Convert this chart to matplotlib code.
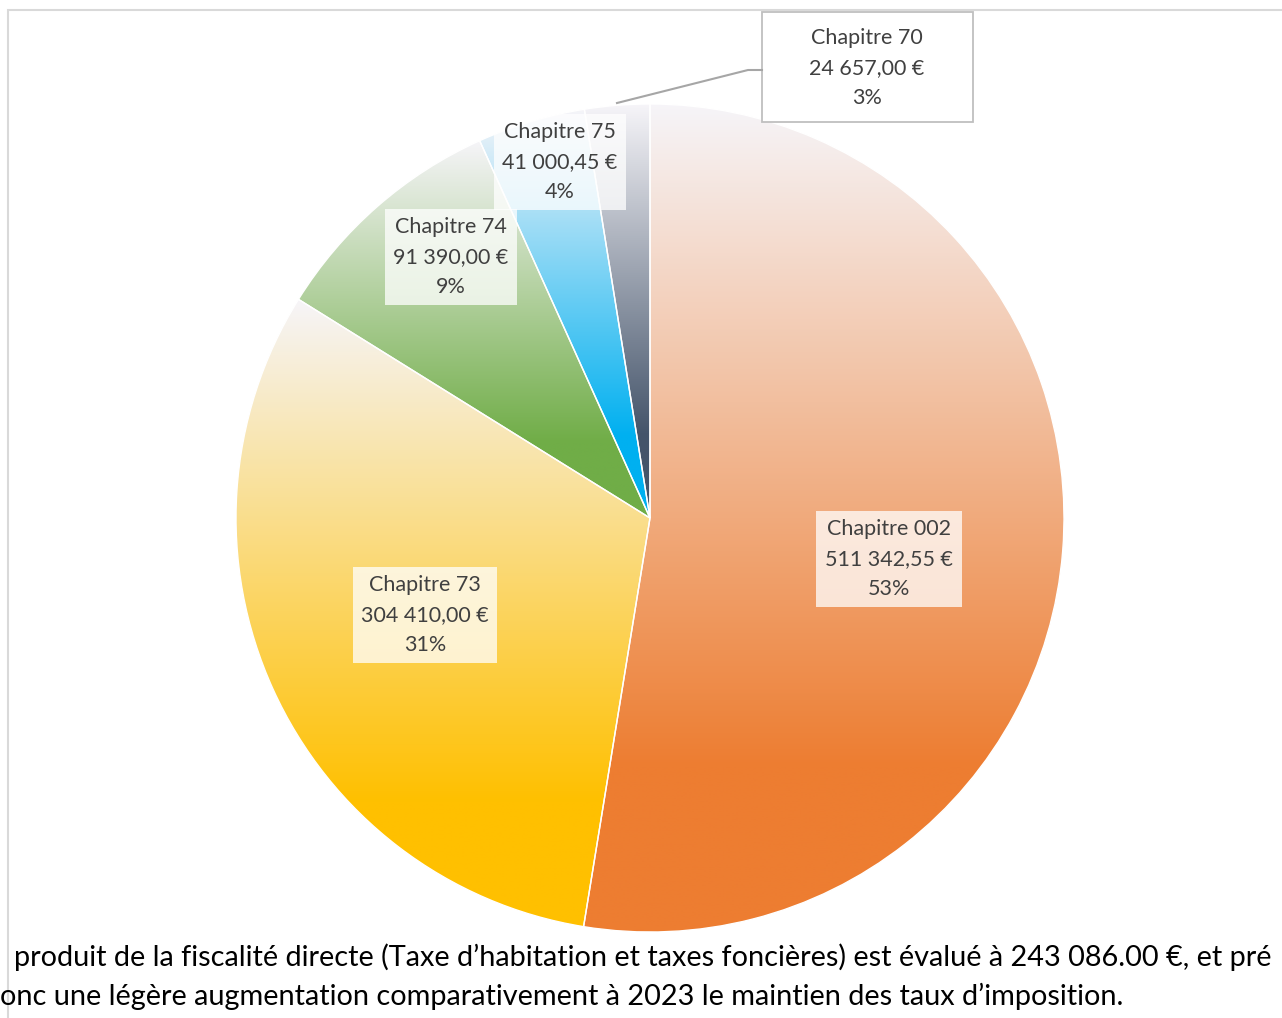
import matplotlib.pyplot as plt
import matplotlib.patches as mpatches
import numpy as np
from matplotlib.colors import to_rgb

# data
chapitres = ["Chapitre 002", "Chapitre 73", "Chapitre 74", "Chapitre 75", "Chapitre 70"]
montants = [511342.55, 304410.00, 91390.00, 41000.45, 24657.00]
couleurs = ["#ED7D31", "#FFC000", "#70AD47", "#00B0F0", "#44546A"]

texte_bas = [
    "produit de la fiscalité directe (Taxe d\u2019habitation et taxes foncières) est évalué à 243 086.00 €, et pré",
    "onc une légère augmentation comparativement à 2023 le maintien des taux d\u2019imposition.",
]

# label centres in pixels (x, y from top) - layout only
label_px = [(889, 559), (425, 615), (451, 257), (560, 162), (867, 68)]

W, H = 1282, 1018
CX, CY, R = 650, 518, 414
FONT = "Lato"


def px_to_data(px, py):
    return (px - CX) / R, (CY - py) / R


def euro(v):
    s = f"{v:,.2f}".replace(",", " ").replace(".", ",")
    return s + " €"


fig = plt.figure(figsize=(W / 100, H / 100), dpi=100)
ax = fig.add_axes([0, 0, 1, 1])
ax.axis("off")

wedges, _ = ax.pie(montants, startangle=90, counterclock=False, radius=1,
                   center=(0, 0), frame=True,
                   wedgeprops=dict(facecolor="none", edgecolor="white", linewidth=1.0))

# vertical light-to-colour gradient inside each slice
light = np.array([0.965, 0.96, 0.975])
n = 400
t = np.linspace(0, 1, n)
ramp = np.clip(t / 0.8, 0, 1)
for w, c in zip(wedges, couleurs):
    w.set_zorder(3)
    ext = w.get_path().get_extents()
    col = np.array(to_rgb(c))
    img = light[None, :] * (1 - ramp[:, None]) + col[None, :] * ramp[:, None]
    img = img[:, None, :]
    im = ax.imshow(img, extent=[ext.x0, ext.x1, ext.y0, ext.y1], origin="upper",
                   aspect="auto", interpolation="bilinear", zorder=2)
    im.set_clip_path(w)

ax.set_xlim(-CX / R, (W - CX) / R)
ax.set_ylim(-(H - CY) / R, CY / R)
ax.set_aspect("auto")

total = sum(montants)
for i, (nom, v) in enumerate(zip(chapitres, montants)):
    x, y = px_to_data(*label_px[i])
    txt = f"{nom}\n{euro(v)}\n{round(v / total * 100):d}%"
    if i == 4:
        box = None
    else:
        box = dict(boxstyle="square,pad=0.4", fc="white", alpha=0.75, ec="none")
    ax.text(x, y, txt, ha="center", va="center", fontsize=15.5, family=FONT,
            color="#404040", linespacing=1.6, bbox=box, zorder=5)

# callout box for Chapitre 70
bx0, by0 = px_to_data(762, 122)
bx1, by1 = px_to_data(973, 12)
ax.add_patch(mpatches.Rectangle((bx0, by0), bx1 - bx0, by1 - by0, fc="white",
                                ec="#BFBFBF", lw=1.3, zorder=4))

# leader line for Chapitre 70
pts = [px_to_data(617, 103), px_to_data(748, 70), px_to_data(762, 70)]
ax.plot([p[0] for p in pts], [p[1] for p in pts], color="#A6A6A6", lw=1.5, zorder=4)

# chart area border
fig.add_artist(mpatches.Rectangle((8 / W, -0.1), 1.2, 1 - 10 / H + 0.1, fill=False,
                                  ec="#D9D9D9", lw=1.5, transform=fig.transFigure))

fig.text(14 / W, 1 - 957 / H, texte_bas[0], ha="left", va="center", fontsize=20.8,
         family=FONT, color="black")
fig.text(0, 1 - 996 / H, texte_bas[1], ha="left", va="center", fontsize=20.8,
         family=FONT, color="black")

fig.savefig("out.png", dpi=100)
